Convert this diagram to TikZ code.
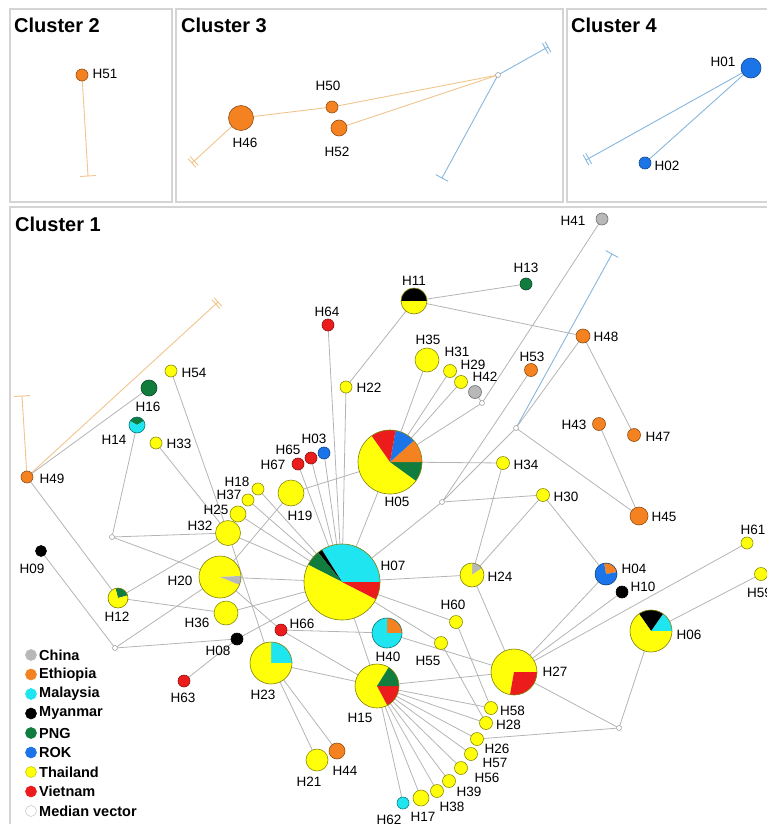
\documentclass[tikz,border=0pt]{standalone}
\usepackage{fontspec}
\setmainfont{Liberation Sans}
\usetikzlibrary{calc}
\definecolor{cChi}{HTML}{B8B8B8}
\definecolor{cEth}{HTML}{F58220}
\definecolor{cMal}{HTML}{1FE5F0}
\definecolor{cMya}{HTML}{000000}
\definecolor{cPNG}{HTML}{107C3E}
\definecolor{cROK}{HTML}{1B75E8}
\definecolor{cTha}{HTML}{FFFF0A}
\definecolor{cVie}{HTML}{EC1C1C}
\definecolor{eGray}{HTML}{B4B4B4}
\definecolor{eOra}{HTML}{F0C48C}
\definecolor{eBlu}{HTML}{86B6DE}
\definecolor{pGray}{HTML}{D4D4D4}
\pgfdeclarelayer{background}
\pgfsetlayers{background,main}
\newcommand\labfont{\fontsize{13.5}{14}\selectfont}
\newcommand\ttlfont{\fontsize{20}{22}\selectfont\bfseries}
\newcommand\lgfont{\fontsize{14.5}{16}\selectfont\bfseries}
\newcommand\wdg[5]{\fill[#5] (#1.center) -- ++(#3:#2) arc[start angle=#3, end angle=#4, radius=#2] -- cycle;}
\begin{document}
\begin{tikzpicture}[x=1pt, y=1pt,
 hn/.style={circle, inner sep=0pt, outer sep=0pt, line width=0.6pt},
 tha/.style={hn, fill=cTha, draw=cTha!55!black},
 eth/.style={hn, fill=cEth, draw=cEth!60!black},
 mal/.style={hn, fill=cMal, draw=cMal!55!black},
 mya/.style={hn, fill=black, draw=black},
 png/.style={hn, fill=cPNG, draw=cPNG!60!black},
 rok/.style={hn, fill=cROK, draw=cROK!60!black},
 chi/.style={hn, fill=cChi, draw=cChi!60!black},
 vie/.style={hn, fill=cVie, draw=cVie!60!black},
 pie/.style={hn},
 mv/.style={hn, minimum size=5pt, fill=white, draw=gray!80, line width=0.5pt},
 lab/.style={inner sep=0pt, font=\labfont},
 ttl/.style={inner sep=0pt, font=\ttlfont, anchor=base west},
 lgt/.style={inner sep=0pt, font=\lgfont, anchor=west},
 ge/.style={draw=eGray, line width=0.8pt},
 oe/.style={draw=eOra, line width=0.9pt},
 be/.style={draw=eBlu, line width=0.9pt},
 panel/.style={draw=pGray, line width=1.2pt}]
\useasboundingbox (0,0) rectangle (766,-824);

% titles
\node[ttl] (c2) at (14,-33) {Cluster 2};
\node[ttl] (c3) at (181,-33) {Cluster 3};
\node[ttl] (c4) at (571,-33) {Cluster 4};
\node[ttl] (c1) at (15,-231) {Cluster 1};

% Cluster 2
\node[eth, minimum size=12pt] (H51) at (82,-75) {};
\node[lab] (tH51) at (105,-74) {H51};
\coordinate (tb2) at (88,-176);

% Cluster 3
\node[eth, minimum size=25pt] (H46) at (241,-118) {};
\node[eth, minimum size=12pt] (H50) at (332,-107) {};
\node[eth, minimum size=16pt] (H52) at (339,-128) {};
\node[mv] (mv3) at (498,-75) {};
\coordinate (db3) at (192,-163);
\coordinate (db3b) at (548,-47);
\coordinate (tb3) at (442,-178);
\node[lab] (tH46) at (245,-143) {H46};
\node[lab] (tH50) at (328,-86) {H50};
\node[lab] (tH52) at (337,-152) {H52};

% Cluster 4
\node[rok, minimum size=20pt] (H01) at (751,-68) {};
\node[rok, minimum size=12pt] (H02) at (645,-163) {};
\coordinate (db4) at (586,-160);
\node[lab] (tH01) at (723,-62) {H01};
\node[lab] (tH02) at (667,-166) {H02};

% Cluster 1 single-colour nodes
\node[eth, minimum size=12pt] (H49) at (27,-477) {};
\coordinate (tb1) at (22,-396);
\coordinate (db1) at (218,-302);
\node[tha, minimum size=12pt] (H54) at (171,-371) {};
\node[png, minimum size=16pt] (H16) at (149,-388) {};
\node[tha, minimum size=12pt] (H33) at (156,-443) {};
\node[mv] (mv1) at (112,-537) {};
\node[mya, minimum size=11pt] (H09) at (41,-551) {};
\node[mv] (mv2) at (115,-648) {};
\node[tha, minimum size=25pt] (H32) at (228,-533) {};
\node[tha, minimum size=16pt] (H25) at (238,-514) {};
\node[tha, minimum size=12pt] (H37) at (248,-500) {};
\node[tha, minimum size=12pt] (H18) at (258,-489) {};
\node[tha, minimum size=24pt] (H36) at (226,-613) {};
\node[mya, minimum size=12pt] (H08) at (237,-639) {};
\node[vie, minimum size=12pt] (H63) at (184,-681) {};
\node[vie, minimum size=12pt] (H66) at (281,-630) {};
\node[tha, minimum size=22pt] (H21) at (317,-760) {};
\node[eth, minimum size=16pt] (H44) at (337,-751) {};
\node[tha, minimum size=26pt] (H19) at (291,-493) {};
\node[vie, minimum size=12pt] (H67) at (298,-464) {};
\node[vie, minimum size=12pt] (H65) at (311,-458) {};
\node[rok, minimum size=12pt] (H03) at (324,-453) {};
\node[vie, minimum size=12pt] (H64) at (328,-325) {};
\node[tha, minimum size=12pt] (H22) at (346,-387) {};
\node[png, minimum size=12pt] (H13) at (526,-284) {};
\node[chi, minimum size=12pt] (H41) at (602,-219) {};
\coordinate (tb1b) at (612,-254);
\node[eth, minimum size=14pt] (H48) at (583,-336) {};
\node[eth, minimum size=13pt] (H53) at (531,-370) {};
\node[tha, minimum size=24pt] (H35) at (427,-360) {};
\node[tha, minimum size=13pt] (H31) at (450,-371) {};
\node[tha, minimum size=13pt] (H29) at (461,-382) {};
\node[chi, minimum size=13pt] (H42) at (475,-392) {};
\node[mv] (mvA) at (482,-403) {};
\node[tha, minimum size=13pt] (H34) at (503,-463) {};
\node[mv] (mvB) at (442,-502) {};
\node[mv] (mvC) at (516,-428) {};
\node[eth, minimum size=13pt] (H43) at (599,-424) {};
\node[eth, minimum size=13pt] (H47) at (634,-435) {};
\node[tha, minimum size=13pt] (H30) at (543,-495) {};
\node[eth, minimum size=18pt] (H45) at (639,-516) {};
\node[mya, minimum size=12pt] (H10) at (622,-592) {};
\node[tha, minimum size=12pt] (H61) at (747,-543) {};
\node[tha, minimum size=13pt] (H59) at (761,-574) {};
\node[mv] (mvD) at (619,-728) {};
\node[tha, minimum size=13pt] (H60) at (456,-622) {};
\node[tha, minimum size=13pt] (H55) at (441,-643) {};
\node[tha, minimum size=13pt] (H58) at (491,-708) {};
\node[tha, minimum size=13pt] (H28) at (486,-723) {};
\node[tha, minimum size=13pt] (H26) at (477,-739) {};
\node[tha, minimum size=13pt] (H57) at (471,-754) {};
\node[tha, minimum size=13pt] (H56) at (461,-768) {};
\node[tha, minimum size=13pt] (H39) at (449,-781) {};
\node[tha, minimum size=13pt] (H38) at (437,-791) {};
\node[tha, minimum size=16pt] (H17) at (421,-798) {};
\node[mal, minimum size=12pt] (H62) at (403,-803) {};

% pie nodes
\node[pie, minimum size=76pt] (H07) at (342,-582) {};
\wdg{H07}{38}{0}{122}{cMal}
\wdg{H07}{38}{122}{129}{cMya}
\wdg{H07}{38}{129}{153}{cPNG}
\wdg{H07}{38}{153}{333}{cTha}
\wdg{H07}{38}{333}{360}{cVie}
\draw[draw=cTha!50!black, line width=0.6pt] (H07.center) circle (38);

\node[pie, minimum size=64pt] (H05) at (390,-462) {};
\wdg{H05}{32}{125}{324}{cTha}
\wdg{H05}{32}{324}{360}{cPNG}
\wdg{H05}{32}{0}{42}{cEth}
\wdg{H05}{32}{42}{80}{cROK}
\wdg{H05}{32}{80}{125}{cVie}
\draw[draw=cTha!50!black, line width=0.6pt] (H05.center) circle (32);

\node[pie, minimum size=44pt] (H15) at (377,-686) {};
\wdg{H15}{22}{58}{298}{cTha}
\wdg{H15}{22}{298}{360}{cVie}
\wdg{H15}{22}{0}{58}{cPNG}
\draw[draw=cTha!50!black, line width=0.6pt] (H15.center) circle (22);

\node[pie, minimum size=46pt] (H27) at (514,-672) {};
\wdg{H27}{23}{0}{260}{cTha}
\wdg{H27}{23}{260}{360}{cVie}
\draw[draw=cTha!50!black, line width=0.6pt] (H27.center) circle (23);

\node[pie, minimum size=42pt] (H06) at (651,-631) {};
\wdg{H06}{21}{0}{55}{cMal}
\wdg{H06}{21}{55}{125}{cMya}
\wdg{H06}{21}{125}{360}{cTha}
\draw[draw=cTha!50!black, line width=0.6pt] (H06.center) circle (21);

\node[pie, minimum size=42pt] (H20) at (220,-577) {};
\wdg{H20}{21}{3}{338}{cTha}
\wdg{H20}{21}{338}{363}{cChi}
\draw[draw=cTha!50!black, line width=0.6pt] (H20.center) circle (21);

\node[pie, minimum size=42pt] (H23) at (271,-663) {};
\wdg{H23}{21}{0}{90}{cMal}
\wdg{H23}{21}{90}{360}{cTha}
\draw[draw=cTha!50!black, line width=0.6pt] (H23.center) circle (21);

\node[pie, minimum size=30pt] (H40) at (387,-633) {};
\wdg{H40}{15}{0}{90}{cEth}
\wdg{H40}{15}{90}{360}{cMal}
\draw[draw=cMal!50!black, line width=0.6pt] (H40.center) circle (15);

\node[pie, minimum size=24pt] (H24) at (472,-575) {};
\wdg{H24}{12}{35}{90}{cChi}
\wdg{H24}{12}{90}{395}{cTha}
\draw[draw=cTha!50!black, line width=0.6pt] (H24.center) circle (12);

\node[pie, minimum size=22pt] (H04) at (606,-574) {};
\wdg{H04}{11}{10}{100}{cEth}
\wdg{H04}{11}{100}{370}{cROK}
\draw[draw=cROK!55!black, line width=0.6pt] (H04.center) circle (11);

\node[pie, minimum size=20pt] (H12) at (118,-598) {};
\wdg{H12}{10}{15}{105}{cPNG}
\wdg{H12}{10}{105}{375}{cTha}
\draw[draw=cTha!50!black, line width=0.6pt] (H12.center) circle (10);

\node[pie, minimum size=26pt] (H11) at (414,-301) {};
\wdg{H11}{13}{0}{180}{cMya}
\wdg{H11}{13}{180}{360}{cTha}
\draw[draw=cTha!50!black, line width=0.6pt] (H11.center) circle (13);

\node[pie, minimum size=16pt] (H14) at (137,-425) {};
\wdg{H14}{8}{30}{150}{cPNG}
\wdg{H14}{8}{150}{390}{cMal}
\draw[draw=cMal!50!black, line width=0.6pt] (H14.center) circle (8);

% labels cluster 1
\node[lab] (tH49) at (52,-479) {H49};
\node[lab] (tH54) at (194,-373) {H54};
\node[lab] (tH16) at (148,-407) {H16};
\node[lab] (tH14) at (114,-440) {H14};
\node[lab] (tH33) at (179,-444) {H33};
\node[lab] (tH09) at (32,-569) {H09};
\node[lab] (tH12) at (117,-617) {H12};
\node[lab] (tH32) at (200,-526) {H32};
\node[lab] (tH25) at (216,-510) {H25};
\node[lab] (tH37) at (229,-495) {H37};
\node[lab] (tH18) at (237,-482) {H18};
\node[lab] (tH20) at (180,-581) {H20};
\node[lab] (tH36) at (197,-623) {H36};
\node[lab] (tH08) at (218,-651) {H08};
\node[lab] (tH63) at (183,-698) {H63};
\node[lab] (tH66) at (302,-624) {H66};
\node[lab] (tH23) at (263,-695) {H23};
\node[lab] (tH21) at (309,-782) {H21};
\node[lab] (tH44) at (345,-771) {H44};
\node[lab] (tH19) at (300,-516) {H19};
\node[lab] (tH67) at (273,-465) {H67};
\node[lab] (tH65) at (288,-450) {H65};
\node[lab] (tH03) at (314,-439) {H03};
\node[lab] (tH64) at (327,-312) {H64};
\node[lab] (tH22) at (369,-388) {H22};
\node[lab] (tH11) at (414,-281) {H11};
\node[lab] (tH13) at (526,-268) {H13};
\node[lab] (tH41) at (573,-221) {H41};
\node[lab] (tH48) at (606,-337) {H48};
\node[lab] (tH53) at (532,-357) {H53};
\node[lab] (tH35) at (428,-340) {H35};
\node[lab] (tH31) at (457,-352) {H31};
\node[lab] (tH29) at (473,-365) {H29};
\node[lab] (tH42) at (485,-377) {H42};
\node[lab] (tH05) at (397,-502) {H05};
\node[lab] (tH34) at (526,-465) {H34};
\node[lab] (tH43) at (574,-425) {H43};
\node[lab] (tH47) at (658,-437) {H47};
\node[lab] (tH30) at (566,-497) {H30};
\node[lab] (tH45) at (664,-517) {H45};
\node[lab] (tH24) at (500,-577) {H24};
\node[lab] (tH07) at (393,-566) {H07};
\node[lab] (tH04) at (634,-569) {H04};
\node[lab] (tH10) at (643,-587) {H10};
\node[lab] (tH61) at (753,-530) {H61};
\node[lab, anchor=west] (tH59) at (747,-593) {H59};
\node[lab] (tH06) at (689,-635) {H06};
\node[lab] (tH60) at (453,-605) {H60};
\node[lab] (tH40) at (388,-657) {H40};
\node[lab] (tH55) at (428,-661) {H55};
\node[lab] (tH15) at (360,-718) {H15};
\node[lab] (tH27) at (555,-672) {H27};
\node[lab, anchor=west] (tH58) at (500,-711) {H58};
\node[lab, anchor=west] (tH28) at (496,-725) {H28};
\node[lab] (tH26) at (497,-749) {H26};
\node[lab] (tH57) at (495,-763) {H57};
\node[lab] (tH56) at (487,-778) {H56};
\node[lab] (tH39) at (469,-792) {H39};
\node[lab] (tH38) at (452,-807) {H38};
\node[lab] (tH17) at (423,-817) {H17};
\node[lab] (tH62) at (389,-820) {H62};

% legend
\node[chi, minimum size=11pt, draw=cChi] (lg1) at (31,-655) {};
\node[eth, minimum size=11pt, draw=cEth] (lg2) at (31,-674.5) {};
\node[mal, minimum size=11pt, draw=cMal] (lg3) at (31,-694) {};
\node[mya, minimum size=11pt] (lg4) at (31,-713.5) {};
\node[png, minimum size=11pt, draw=cPNG] (lg5) at (31,-733) {};
\node[rok, minimum size=11pt, draw=cROK] (lg6) at (31,-752.5) {};
\node[tha, minimum size=11pt, draw=cTha!80!black] (lg7) at (31,-772) {};
\node[vie, minimum size=11pt, draw=cVie] (lg8) at (31,-791.5) {};
\node[hn, minimum size=11pt, fill=white, draw=gray!40] (lg9) at (31,-811) {};
\node[lgt] (lt1) at (39,-655) {China};
\node[lgt] (lt2) at (39,-674.5) {Ethiopia};
\node[lgt] (lt3) at (39,-694) {Malaysia};
\node[lgt] (lt4) at (39,-713.5) {Myanmar};
\node[lgt] (lt5) at (39,-733) {PNG};
\node[lgt] (lt6) at (39,-752.5) {ROK};
\node[lgt] (lt7) at (39,-772) {Thailand};
\node[lgt] (lt8) at (39,-791.5) {Vietnam};
\node[lgt] (lt9) at (39,-811) {Median vector};

\begin{pgfonlayer}{background}
% panels
\draw[panel] (10,-9) rectangle (172,-202);
\draw[panel] (176,-9) rectangle (563,-202);
\draw[panel] (567,-9) rectangle (790,-202);
\draw[panel] (10,-207) rectangle (790,-850);

% cluster 2
\draw[oe] (H51) -- (tb2);
\draw[oe] ($(tb2)!8pt!90:(H51)$) -- ($(tb2)!8pt!-90:(H51)$);
% cluster 3
\draw[oe] (H46) -- (H50);
\draw[oe] (H50) -- (mv3);
\draw[oe] (H52) -- (mv3);
\draw[oe] (H46) -- (db3);
\coordinate (db3i) at ($(db3)!3pt!(H46)$);
\draw[oe] ($(db3)!6pt!90:(H46)$) -- ($(db3)!6pt!-90:(H46)$);
\draw[oe] ($(db3i)!6pt!90:(H46)$) -- ($(db3i)!6pt!-90:(H46)$);
\draw[be] (mv3) -- (db3b);
\coordinate (db3bi) at ($(db3b)!3pt!(mv3)$);
\draw[be] ($(db3b)!6pt!90:(mv3)$) -- ($(db3b)!6pt!-90:(mv3)$);
\draw[be] ($(db3bi)!6pt!90:(mv3)$) -- ($(db3bi)!6pt!-90:(mv3)$);
\draw[be] (mv3) -- (tb3);
\draw[be] ($(tb3)!7pt!90:(mv3)$) -- ($(tb3)!7pt!-90:(mv3)$);
% cluster 4
\draw[be] (H01) -- (H02);
\draw[be] (H01) -- (db4);
\coordinate (db4i) at ($(db4)!3pt!(H01)$);
\draw[be] ($(db4)!6pt!90:(H01)$) -- ($(db4)!6pt!-90:(H01)$);
\draw[be] ($(db4i)!6pt!90:(H01)$) -- ($(db4i)!6pt!-90:(H01)$);

% cluster 1 outgroup links
\draw[oe] (H49) -- (tb1);
\draw[oe] ($(tb1)!8pt!90:(H49)$) -- ($(tb1)!8pt!-90:(H49)$);
\draw[oe] (H49) -- (db1);
\coordinate (db1i) at ($(db1)!3pt!(H49)$);
\draw[oe] ($(db1)!6pt!90:(H49)$) -- ($(db1)!6pt!-90:(H49)$);
\draw[oe] ($(db1i)!6pt!90:(H49)$) -- ($(db1i)!6pt!-90:(H49)$);
\draw[be] (mvC) -- (tb1b);
\draw[be] ($(tb1b)!7pt!90:(mvC)$) -- ($(tb1b)!7pt!-90:(mvC)$);

% cluster 1 edges
\draw[ge] (H49) -- (H16);
\draw[ge] (H49) -- (H12);
\draw[ge] (H14) -- (mv1);
\draw[ge] (mv1) -- (H32);
\draw[ge] (mv1) -- (H20);
\draw[ge] (H09) -- (mv2);
\draw[ge] (mv2) -- (H20);
\draw[ge] (mv2) -- (H08);
\draw[ge] (H12) -- (H32);
\draw[ge] (H12) -- (H36);
\draw[ge] (H33) -- (H32);
\draw[ge] (H54) -- (H32);
\draw[ge] (H32) -- (H07);
\draw[ge] (H25) -- (H07);
\draw[ge] (H37) -- (H07);
\draw[ge] (H18) -- (H07);
\draw[ge] (H20) -- (H07);
\draw[ge] (H36) -- (H07);
\draw[ge] (H08) -- (H07);
\draw[ge] (H19) -- (H05);
\draw[ge] (H19) -- (H20);
\draw[ge] (H07) -- (H64);
\draw[ge] (H07) -- (H22);
\draw[ge] (H07) -- (H67);
\draw[ge] (H07) -- (H65);
\draw[ge] (H07) -- (H03);
\draw[ge] (H07) -- (H05);
\draw[ge] (H07) -- (mvB);
\draw[ge] (H07) -- (H24);
\draw[ge] (H07) -- (H60);
\draw[ge] (H07) -- (H55);
\draw[ge] (H07) -- (H15);
\draw[ge] (H22) -- (H11);
\draw[ge] (H11) -- (H13);
\draw[ge] (H11) -- (H48);
\draw[ge] (H05) -- (H35);
\draw[ge] (H05) -- (H31);
\draw[ge] (H05) -- (H29);
\draw[ge] (H05) -- (mvA);
\draw[ge] (mvA) -- (H42);
\draw[ge] (mvA) -- (H41);
\draw[ge] (H05) -- (H34);
\draw[ge] (mvB) -- (H30);
\draw[ge] (mvB) -- (H53);
\draw[ge] (mvB) -- (mvC);
\draw[ge] (mvC) -- (H48);
\draw[ge] (mvC) -- (H45);
\draw[ge] (H48) -- (H47);
\draw[ge] (H43) -- (H45);
\draw[ge] (H30) -- (H24);
\draw[ge] (H30) -- (H04);
\draw[ge] (H24) -- (H34);
\draw[ge] (H24) -- (H27);
\draw[ge] (H04) -- (H27);
\draw[ge] (H10) -- (H27);
\draw[ge] (H61) -- (H27);
\draw[ge] (H59) -- (H06);
\draw[ge] (H06) -- (mvD);
\draw[ge] (mvD) -- (H27);
\draw[ge] (mvD) -- (H26);
\draw[ge] (H15) -- (H27);
\draw[ge] (H40) -- (H27);
\draw[ge] (H60) -- (H58);
\draw[ge] (H55) -- (H28);
\draw[ge] (H66) -- (H40);
\draw[ge] (H66) -- (H15);
\draw[ge] (H66) -- (H20);
\draw[ge] (H63) -- (H08);
\draw[ge] (H23) -- (H15);
\draw[ge] (H23) -- (H21);
\draw[ge] (H23) -- (H44);
\draw[ge] (H32) -- (H23);
\draw[ge] (H15) -- (H58);
\draw[ge] (H15) -- (H28);
\draw[ge] (H15) -- (H26);
\draw[ge] (H15) -- (H57);
\draw[ge] (H15) -- (H56);
\draw[ge] (H15) -- (H39);
\draw[ge] (H15) -- (H38);
\draw[ge] (H15) -- (H17);
\draw[ge] (H15) -- (H62);
\end{pgfonlayer}
\end{tikzpicture}
\end{document}
